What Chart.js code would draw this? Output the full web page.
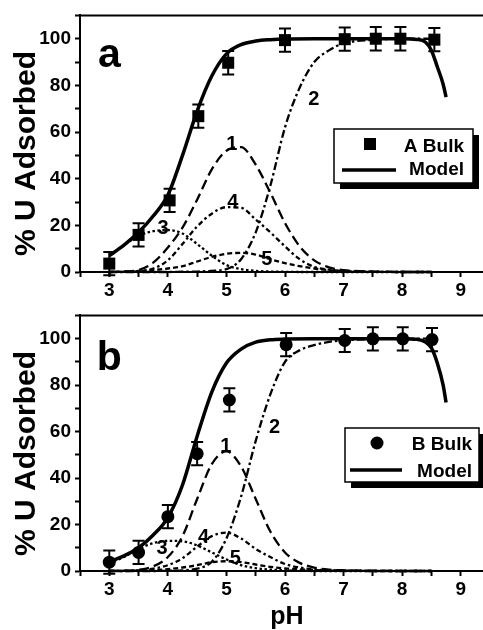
<!DOCTYPE html>
<html>
<head>
<meta charset="utf-8">
<script src="https://cdn.jsdelivr.net/npm/chart.js@4.4.1/dist/chart.umd.min.js"></script>
<style>
  html, body { margin:0; padding:0; background:#fff; overflow:hidden; width:483px; height:630px; }
  canvas { position:absolute; left:0; }
  #cA { top:0; }
  #cB { top:300px; }
</style>
</head>
<body>
<canvas id="cA" width="500" height="300"></canvas>
<canvas id="cB" width="500" height="330"></canvas>
<script>
// ---------------- data ----------------
const phGrid  = [3,3.25,3.5,3.75,4,4.25,4.5,4.75,5,5.25,5.5,5.75,6,6.25,6.5,6.75,7,7.5,8,8.5];
const phModel = [3,3.25,3.5,3.75,4,4.25,4.5,4.75,5,5.25,5.5,5.75,6,6.5,7,7.5,8,8.25,8.4,8.5,8.6,8.7,8.75];
const xTickLabels = ['3','4','5','6','7','8','9'];
const yTickLabels = ['0','20','40','60','80','100'];
const componentNames = ['1','2','3','4','5'];

// panel a
const phA    = [3, 3.5, 4.03, 4.52, 5.03, 6, 7.02, 7.55, 7.97, 8.55];
const bulkA  = [3.6, 15.9, 30.7, 66.8, 89.7, 99.4, 99.8, 100, 100, 99.6];
const errA   = [5, 5, 5, 5, 5, 5, 5, 5, 5, 5];
const modelA = [7, 11.5, 17, 24, 33, 50, 69, 84, 93.5, 97.5, 99, 99.6, 99.9, 100, 100, 100, 100, 99.7, 98.5, 95, 88, 80.5, 75];
const c1A = [0, 0.2, 0.8, 4, 10.5, 19, 31, 44, 52, 53.5, 46, 34, 21, 11, 5, 2, 0.8, 0.2, 0, 0];
const c2A = [0, 0, 0, 0, 0, 0.1, 0.2, 0.5, 1.2, 5.5, 17, 37, 62, 79, 90, 95, 98, 99.5, 100, 100];
const c3A = [7, 11.5, 15.5, 17.5, 18, 16.5, 12, 7, 3, 1.2, 0.5, 0.2, 0.1, 0, 0, 0, 0, 0, 0, 0];
const c4A = [0, 0.1, 0.5, 1.5, 5, 12, 19.5, 25, 27.8, 27.5, 22.5, 17, 11, 5.5, 2.2, 1, 0.4, 0.1, 0, 0];
const c5A = [0, 0.1, 0.3, 0.8, 1.5, 2.5, 4.5, 6.5, 7.8, 8.2, 7.5, 5.5, 3.8, 2.5, 1.5, 0.8, 0.4, 0.1, 0, 0];

// panel b
const phB    = [3, 3.5, 4, 4.5, 5.05, 6.02, 7.02, 7.5, 8.01, 8.51];
const bulkB  = [3.8, 8, 23.4, 50.5, 73.6, 97.4, 99.2, 99.9, 99.9, 99.6];
const errB   = [5, 5, 5, 5, 5, 5, 5, 5, 5, 5];
const modelB = [4, 6.5, 10, 15.5, 23, 37, 58, 77, 89.5, 95.5, 98.5, 99.5, 99.8, 100, 100, 100, 100, 99.7, 98.5, 96, 89.5, 80, 72.5];
const c1B = [0, 0.1, 0.5, 2, 6, 15, 31, 46, 51.5, 45, 31, 17, 8, 3.5, 1.5, 0.6, 0.3, 0.1, 0, 0];
const c2B = [0, 0, 0, 0, 0.1, 0.3, 1, 4, 14, 32, 56, 76, 90, 95, 97.2, 98.6, 99.3, 99.8, 100, 100];
const c3B = [3.5, 6, 9.5, 12, 13, 12.8, 11, 8, 5, 2.5, 1.2, 0.6, 0.3, 0.1, 0, 0, 0, 0, 0, 0];
const c4B = [0, 0.1, 0.3, 1, 2.5, 5.5, 10.5, 15, 16.5, 14, 9.5, 6, 3, 1.5, 0.7, 0.3, 0.2, 0, 0, 0];
const c5B = [0, 0, 0.2, 0.4, 0.8, 1.5, 2.5, 3.8, 4.2, 3.8, 2.8, 1.8, 1.1, 0.7, 0.4, 0.2, 0.1, 0, 0, 0];

// ---------------- helpers ----------------
const FONT = '"Liberation Sans", Arial, Helvetica, sans-serif';
Chart.defaults.font.family = FONT;
Chart.defaults.font.weight = 'bold';
Chart.defaults.color = '#000';

const pts = (xs, ys) => xs.map((x, i) => ({x: x, y: ys[i]}));
const dashes = [[10,5],[8,3,2.5,3],[2.5,2.5],[5,3,2.5,3],[5,3]];

function lineDs(label, xs, ys, width, dash) {
  return { label, data: pts(xs, ys), showLine: true, borderColor: '#000', backgroundColor: '#000',
    borderWidth: width, borderDash: dash || [], pointRadius: 0, pointHoverRadius: 0,
    cubicInterpolationMode: 'monotone', fill: false, clip: false };
}

const panelPlugin = {
  id: 'panel',
  afterDatasetsDraw(chart, args, o) {
    const {ctx, scales: {x, y}} = chart;
    ctx.save();
    ctx.strokeStyle = '#000'; ctx.lineWidth = 2;
    o.errX.forEach((xv, i) => {
      const px = x.getPixelForValue(xv);
      const yt = y.getPixelForValue(o.errY[i] + o.err[i]);
      const yb = y.getPixelForValue(o.errY[i] - o.err[i]);
      ctx.beginPath();
      ctx.moveTo(px, yt); ctx.lineTo(px, yb);
      ctx.moveTo(px - 6, yt); ctx.lineTo(px + 6, yt);
      ctx.moveTo(px - 6, yb); ctx.lineTo(px + 6, yb);
      ctx.stroke();
    });
    ctx.restore();
  },
  afterDraw(chart, args, o) {
    const {ctx, chartArea: ca, scales: {x, y}} = chart;
    ctx.save();
    ctx.strokeStyle = '#000'; ctx.lineWidth = 2;
    ctx.beginPath(); ctx.moveTo(ca.left - 1, ca.top); ctx.lineTo(ca.right, ca.top); ctx.stroke();
    ctx.beginPath(); ctx.moveTo(ca.right, ca.top); ctx.lineTo(ca.right, ca.bottom); ctx.stroke();
    ctx.fillStyle = '#000';
    // y title
    ctx.save();
    ctx.translate(27, ca.top + 138);
    ctx.rotate(-Math.PI / 2);
    ctx.font = 'bold 30px ' + FONT;
    ctx.textAlign = 'center'; ctx.textBaseline = 'middle';
    ctx.fillText(o.yTitle, 0, 0);
    ctx.restore();
    // x title
    if (o.xTitle) {
      ctx.font = 'bold 25px ' + FONT;
      ctx.textAlign = 'center'; ctx.textBaseline = 'alphabetic';
      ctx.fillText(o.xTitle, (ca.left + ca.right) / 2 + 2, ca.bottom + 53);
    }
    // panel letter
    ctx.font = 'bold 41px ' + FONT;
    ctx.textAlign = 'center'; ctx.textBaseline = 'alphabetic';
    ctx.fillText(o.letter.text, x.getPixelForValue(o.letter.x), y.getPixelForValue(o.letter.y));
    // component labels
    ctx.font = 'bold 20px ' + FONT;
    o.labels.forEach(l => {
      ctx.fillText(l.text, x.getPixelForValue(l.x), y.getPixelForValue(l.y));
    });
    // legend box
    const L = o.legend;
    ctx.fillStyle = '#000';
    ctx.fillRect(L.x + 6, L.y + 6, L.w, L.h);
    ctx.fillStyle = '#fff';
    ctx.fillRect(L.x, L.y, L.w, L.h);
    ctx.strokeStyle = '#000'; ctx.lineWidth = 1.5;
    ctx.strokeRect(L.x, L.y, L.w, L.h);
    const dsPts = chart.data.datasets[0];
    const dsModel = chart.data.datasets[1];
    ctx.fillStyle = '#000';
    if (dsPts.pointStyle === 'rect') {
      ctx.fillRect(L.mx - 6, L.my - 6, 12, 12);
    } else {
      ctx.beginPath(); ctx.arc(L.mx, L.my, dsPts.pointRadius, 0, Math.PI * 2); ctx.fill();
    }
    ctx.lineWidth = dsModel.borderWidth;
    ctx.beginPath(); ctx.moveTo(L.lx1, L.ly); ctx.lineTo(L.lx2, L.ly); ctx.stroke();
    ctx.font = 'bold 19px ' + FONT;
    ctx.textAlign = 'right'; ctx.textBaseline = 'alphabetic';
    ctx.fillText(dsPts.label, L.tx, L.t1y);
    ctx.fillText(dsModel.label, L.tx, L.t2y);
    ctx.restore();
  }
};

function makeChart(id, cfg) {
  const datasets = [
    { label: cfg.ptsLabel, data: pts(cfg.px, cfg.py), showLine: false, pointStyle: cfg.style,
      pointRadius: cfg.radius, pointHoverRadius: cfg.radius, backgroundColor: '#000', borderColor: '#000',
      borderWidth: 0, clip: false },
    lineDs('Model', phModel, cfg.model, 3.5),
  ];
  cfg.comps.forEach((c, i) => datasets.push(lineDs(componentNames[i], phGrid, c, 2.3, dashes[i])));
  return new Chart(document.getElementById(id), {
    type: 'scatter',
    data: { datasets },
    plugins: [panelPlugin],
    options: {
      responsive: false, animation: false, devicePixelRatio: 1,
      layout: { padding: { top: 10, right: 10, left: 0, bottom: 0 } },
      plugins: { legend: { display: false }, tooltip: { enabled: false },
        panel: cfg.panel },
      scales: {
        x: { type: 'linear', min: 2.5, max: 9.5,
          afterFit: s => { s.height = cfg.xh; },
          border: { display: true, color: '#000', width: 2 },
          grid: { display: true, drawOnChartArea: false, drawTicks: true, tickLength: 5, tickWidth: 2, tickColor: '#000' },
          ticks: { stepSize: 0.5, autoSkip: false, maxRotation: 0, padding: 2,
            font: { size: 19, weight: 'bold' }, color: '#000',
            callback: v => { const s = String(v); return xTickLabels.includes(s) ? s : ''; } } },
        y: { type: 'linear', min: 0, max: 110,
          afterFit: s => { s.width = 80; },
          border: { display: true, color: '#000', width: 2 },
          grid: { display: true, drawOnChartArea: false, drawTicks: true, tickLength: 5, tickWidth: 2, tickColor: '#000' },
          ticks: { stepSize: 10, autoSkip: false, padding: 4,
            font: { size: 19, weight: 'bold' }, color: '#000',
            callback: v => { const s = String(v); return yTickLabels.includes(s) ? s : ''; } } }
      }
    }
  });
}

makeChart('cA', {
  ptsLabel: 'A Bulk', px: phA, py: bulkA, style: 'rect', radius: 8.5, model: modelA,
  comps: [c1A, c2A, c3A, c4A, c5A], xh: 28,
  panel: {
    errX: phA, errY: bulkA, err: errA, yTitle: '% U Adsorbed', xTitle: null,
    letter: { text: 'a', x: 3.0, y: 88 },
    labels: [
      { text: '1', x: 5.09, y: 52.1 }, { text: '2', x: 6.49, y: 71.7 }, { text: '3', x: 3.92, y: 16.3 },
      { text: '4', x: 5.11, y: 27.5 }, { text: '5', x: 5.69, y: 2.9 } ],
    legend: { x: 334, y: 129, w: 139, h: 54, mx: 370, my: 144, lx1: 342, lx2: 396, ly: 170, tx: 464, t1y: 152, t2y: 175 }
  }
});

makeChart('cB', {
  ptsLabel: 'B Bulk', px: phB, py: bulkB, style: 'circle', radius: 6.5, model: modelB,
  comps: [c1B, c2B, c3B, c4B, c5B], xh: 59,
  panel: {
    errX: phB, errY: bulkB, err: errB, yTitle: '% U Adsorbed', xTitle: 'pH',
    letter: { text: 'b', x: 3.0, y: 86.5 },
    labels: [
      { text: '1', x: 4.99, y: 51.4 }, { text: '2', x: 5.82, y: 59.2 }, { text: '3', x: 3.9, y: 7.3 },
      { text: '4', x: 4.61, y: 12.2 }, { text: '5', x: 5.15, y: 3.1 } ],
    legend: { x: 345, y: 128, w: 134, h: 54, mx: 377, my: 143, lx1: 350, lx2: 402, ly: 170, tx: 472, t1y: 150, t2y: 177 }
  }
});
</script>
</body>
</html>
